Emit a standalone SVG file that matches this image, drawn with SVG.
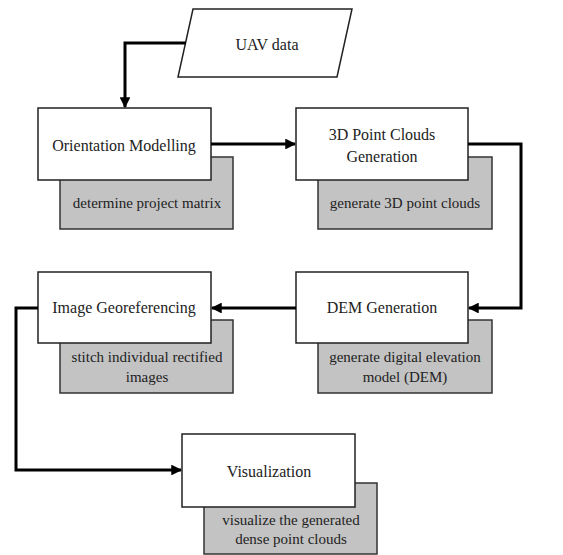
<svg xmlns="http://www.w3.org/2000/svg" width="563" height="555" viewBox="0 0 563 555">
<defs>
<style>
.box{fill:#fff;stroke:#222;stroke-width:1.5}
.sh{fill:#c3c3c3;stroke:#333;stroke-width:1.5}
.t{font-family:"Liberation Serif","Times New Roman",serif;font-size:16px;fill:#222;text-anchor:middle}
.s{font-family:"Liberation Serif","Times New Roman",serif;font-size:15px;fill:#222;text-anchor:middle}
.c{fill:none;stroke:#000;stroke-width:3;marker-end:url(#ah)}
</style>
<marker id="ah" viewBox="0 0 10 10" refX="9" refY="5" markerWidth="3.6" markerHeight="3.6" orient="auto" markerUnits="strokeWidth">
<path d="M0,0 L10,5 L0,10 z" fill="#000"/>
</marker>
</defs>
<rect width="563" height="555" fill="#fff"/>
<g id="uav">
<polygon class="box" points="193,9 352,9 337,77 178,77"/>
<text class="t" x="267" y="50">UAV data</text>
</g>
<g id="orientation">
<rect class="sh" x="60" y="157" width="173" height="72"/>
<rect class="box" x="38" y="108" width="173" height="72"/>
<text class="t" x="124" y="151">Orientation Modelling</text>
<text class="s" x="147" y="208">determine project matrix</text>
</g>
<g id="pointclouds">
<rect class="sh" x="318" y="157" width="174" height="72"/>
<rect class="box" x="296" y="108" width="172" height="72"/>
<text class="t" x="382" y="140">3D Point Clouds</text>
<text class="t" x="382" y="162">Generation</text>
<text class="s" x="405" y="208">generate 3D point clouds</text>
</g>
<g id="dem">
<rect class="sh" x="318" y="320" width="174" height="73"/>
<rect class="box" x="296" y="272" width="172" height="71"/>
<text class="t" x="382" y="313">DEM Generation</text>
<text class="s" x="405" y="362">generate digital elevation</text>
<text class="s" x="405" y="382">model (DEM)</text>
</g>
<g id="georef">
<rect class="sh" x="60" y="320" width="173" height="73"/>
<rect class="box" x="38" y="272" width="173" height="71"/>
<text class="t" x="124" y="313">Image Georeferencing</text>
<text class="s" x="147" y="362">stitch individual rectified</text>
<text class="s" x="147" y="382">images</text>
</g>
<g id="visualization">
<rect class="sh" x="204" y="483" width="173" height="71"/>
<rect class="box" x="182" y="434" width="173" height="73"/>
<text class="t" x="269" y="477">Visualization</text>
<text class="s" x="291" y="525">visualize the generated</text>
<text class="s" x="291" y="544">dense point clouds</text>
</g>
<g id="connectors">
<path class="c" d="M186,43 H125 V107"/>
<path class="c" d="M211,144 H295"/>
<path class="c" d="M468,144 H521 V308 H469"/>
<path class="c" d="M296,308 H212"/>
<path class="c" d="M38,308 H16 V470 H181"/>
</g>
</svg>
